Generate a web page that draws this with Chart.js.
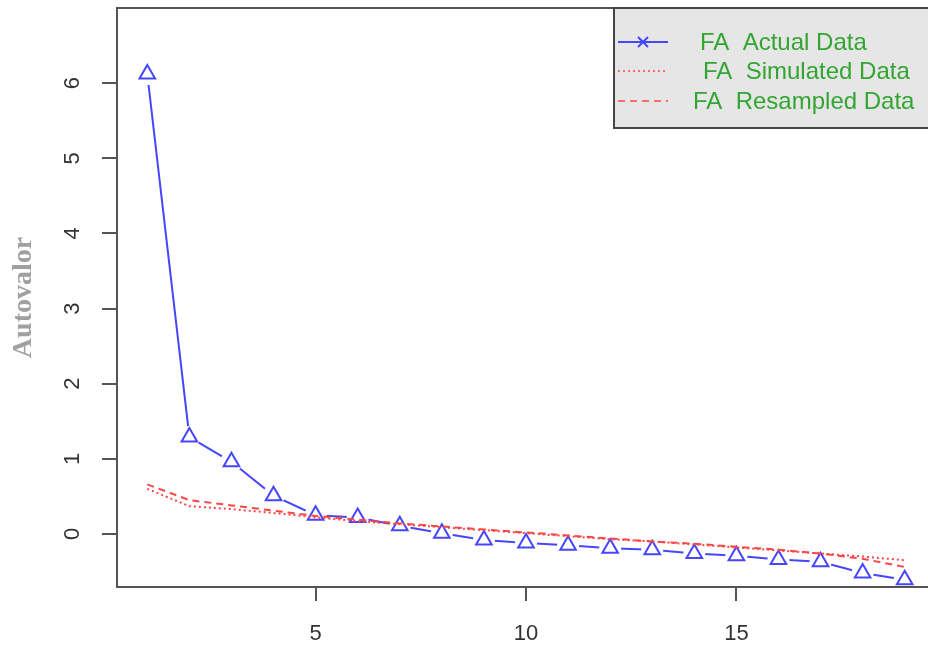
<!DOCTYPE html>
<html>
<head>
<meta charset="utf-8">
<script src="https://cdn.jsdelivr.net/npm/chart.js@4.4.0/dist/chart.umd.min.js"></script>
<style>
  html, body { margin: 0; padding: 0; background: #fff; overflow: hidden; }
  #wrap { position: relative; width: 935px; height: 645px; }
</style>
</head>
<body>
<div id="wrap"><canvas id="chart" width="935" height="645"></canvas></div>
<script>
// factor number on the x axis
const factors = [1, 2, 3, 4, 5, 6, 7, 8, 9, 10, 11, 12, 13, 14, 15, 16, 17, 18, 19];
// eigenvalues
const actualData = [6.12, 1.29, 0.96, 0.51, 0.25, 0.22, 0.11, 0.01, -0.08, -0.12, -0.15, -0.19, -0.21, -0.26, -0.29, -0.34, -0.37, -0.52, -0.61];
const simulatedData = [0.60, 0.37, 0.33, 0.28, 0.22, 0.17, 0.13, 0.09, 0.05, 0.01, -0.03, -0.07, -0.10, -0.14, -0.18, -0.22, -0.26, -0.30, -0.35];
const resampledData = [0.66, 0.45, 0.38, 0.31, 0.24, 0.19, 0.14, 0.10, 0.06, 0.02, -0.02, -0.06, -0.10, -0.13, -0.17, -0.21, -0.26, -0.33, -0.44];
const xTicks = [5, 10, 15];
const yTicks = [0, 1, 2, 3, 4, 5, 6];
const legendLabels = ['FA  Actual Data', 'FA  Simulated Data', 'FA  Resampled Data'];

const blue = 'rgb(70,70,255)';
const red = 'rgb(255,70,70)';
const axisGrey = '#555';

const toPoints = vals => factors.map((f, i) => ({ x: f, y: vals[i] }));

// box round the plot, like R's box()
const boxPlugin = {
  id: 'box',
  afterDraw(chart) {
    const { ctx, chartArea: a } = chart;
    ctx.save();
    ctx.strokeStyle = axisGrey;
    ctx.lineWidth = 2;
    ctx.strokeRect(a.left, a.top, a.right - a.left, a.bottom - a.top);
    ctx.restore();
  }
};

// grey legend box in the top right corner
const legendBox = {
  id: 'legendBox',
  afterDraw(chart) {
    const ctx = chart.ctx;
    const x0 = 614, y0 = 8, x1 = 940, y1 = 128;
    ctx.save();
    ctx.fillStyle = '#e6e6e6';
    ctx.fillRect(x0, y0, x1 - x0, y1 - y0);
    ctx.strokeStyle = '#444';
    ctx.lineWidth = 2;
    ctx.strokeRect(x0, y0, x1 - x0, y1 - y0);

    const rows = [42, 71, 101];
    const textX = [700, 703, 693];
    const dashes = [[], [2, 3], [7, 5]];
    const colors = [blue, red, red];
    rows.forEach((y, i) => {
      ctx.strokeStyle = colors[i];
      ctx.lineWidth = i === 0 ? 2 : 1.6;
      ctx.setLineDash(dashes[i]);
      ctx.beginPath();
      ctx.moveTo(618, y);
      ctx.lineTo(668, y);
      ctx.stroke();
      ctx.setLineDash([]);
      if (i === 0) {
        ctx.lineWidth = 2;
        ctx.beginPath();
        ctx.moveTo(638, y - 5); ctx.lineTo(648, y + 5);
        ctx.moveTo(648, y - 5); ctx.lineTo(638, y + 5);
        ctx.stroke();
      }
      ctx.fillStyle = 'rgb(50,165,50)';
      ctx.font = '24px "Liberation Sans", Arial, sans-serif';
      ctx.textBaseline = 'middle';
      ctx.fillText(legendLabels[i], textX[i], y + 1);
    });
    ctx.restore();
  }
};

const ctx = document.getElementById('chart').getContext('2d');
new Chart(ctx, {
  type: 'line',
  data: {
    datasets: [
      {
        label: legendLabels[1],
        data: toPoints(simulatedData),
        borderColor: red,
        borderWidth: 2,
        borderDash: [2, 3],
        pointRadius: 0,
        fill: false,
        order: 0
      },
      {
        label: legendLabels[2],
        data: toPoints(resampledData),
        borderColor: red,
        borderWidth: 2,
        borderDash: [7, 5],
        pointRadius: 0,
        fill: false,
        order: 1
      },
      {
        label: legendLabels[0],
        data: toPoints(actualData),
        showLine: false,
        pointStyle: 'triangle',
        pointRadius: 9,
        pointBorderWidth: 2,
        pointBorderColor: blue,
        pointBackgroundColor: 'rgba(255,255,255,0)',
        order: 2
      },
      {
        // white gaps round the points, as R type = "b"
        label: 'gap',
        data: toPoints(actualData),
        showLine: false,
        pointStyle: 'circle',
        pointRadius: 11,
        pointBorderWidth: 0,
        pointBackgroundColor: '#fff',
        order: 3
      },
      {
        label: 'line',
        data: toPoints(actualData),
        borderColor: blue,
        borderWidth: 2,
        pointRadius: 0,
        fill: false,
        order: 4
      }
    ]
  },
  options: {
    responsive: false,
    animation: false,
    maintainAspectRatio: false,
    layout: { autoPadding: false, padding: { top: 8, left: 0, right: 0, bottom: 0 } },
    plugins: {
      legend: { display: false },
      tooltip: { enabled: false }
    },
    scales: {
      x: {
        type: 'linear',
        min: 0.28,
        max: 19.72,
        afterBuildTicks: scale => { scale.ticks = xTicks.map(v => ({ value: v })); },
        afterFit: scale => {
          scale.height = 58;
          scale.paddingLeft = 0;
          scale.paddingRight = 0;
        },
        grid: { drawOnChartArea: false, drawTicks: true, tickLength: 14, color: axisGrey, lineWidth: 2 },
        border: { display: true, color: axisGrey, width: 2 },
        ticks: {
          color: '#333',
          padding: 20,
          maxRotation: 0,
          autoSkip: false,
          font: { family: '"Liberation Sans", Arial, sans-serif', size: 22 }
        }
      },
      y: {
        type: 'linear',
        min: -0.706,
        max: 7.0,
        afterBuildTicks: scale => { scale.ticks = yTicks.map(v => ({ value: v })); },
        afterFit: scale => {
          scale.width = 117;
          scale.paddingTop = 0;
          scale.paddingBottom = 0;
        },
        grid: { drawOnChartArea: false, drawTicks: true, tickLength: 15, color: axisGrey, lineWidth: 2 },
        border: { display: true, color: axisGrey, width: 2 },
        ticks: {
          color: '#333',
          padding: 23,
          minRotation: 90,
          maxRotation: 90,
          autoSkip: false,
          crossAlign: 'center',
          font: { family: '"Liberation Sans", Arial, sans-serif', size: 22 }
        },
        title: {
          display: true,
          text: 'Autovalor',
          color: '#a0a0a0',
          padding: { top: 7, bottom: 0 },
          font: { family: '"Liberation Serif", "Times New Roman", serif', size: 28, weight: 'bold' }
        }
      }
    }
  },
  plugins: [boxPlugin, legendBox]
});
</script>
</body>
</html>
